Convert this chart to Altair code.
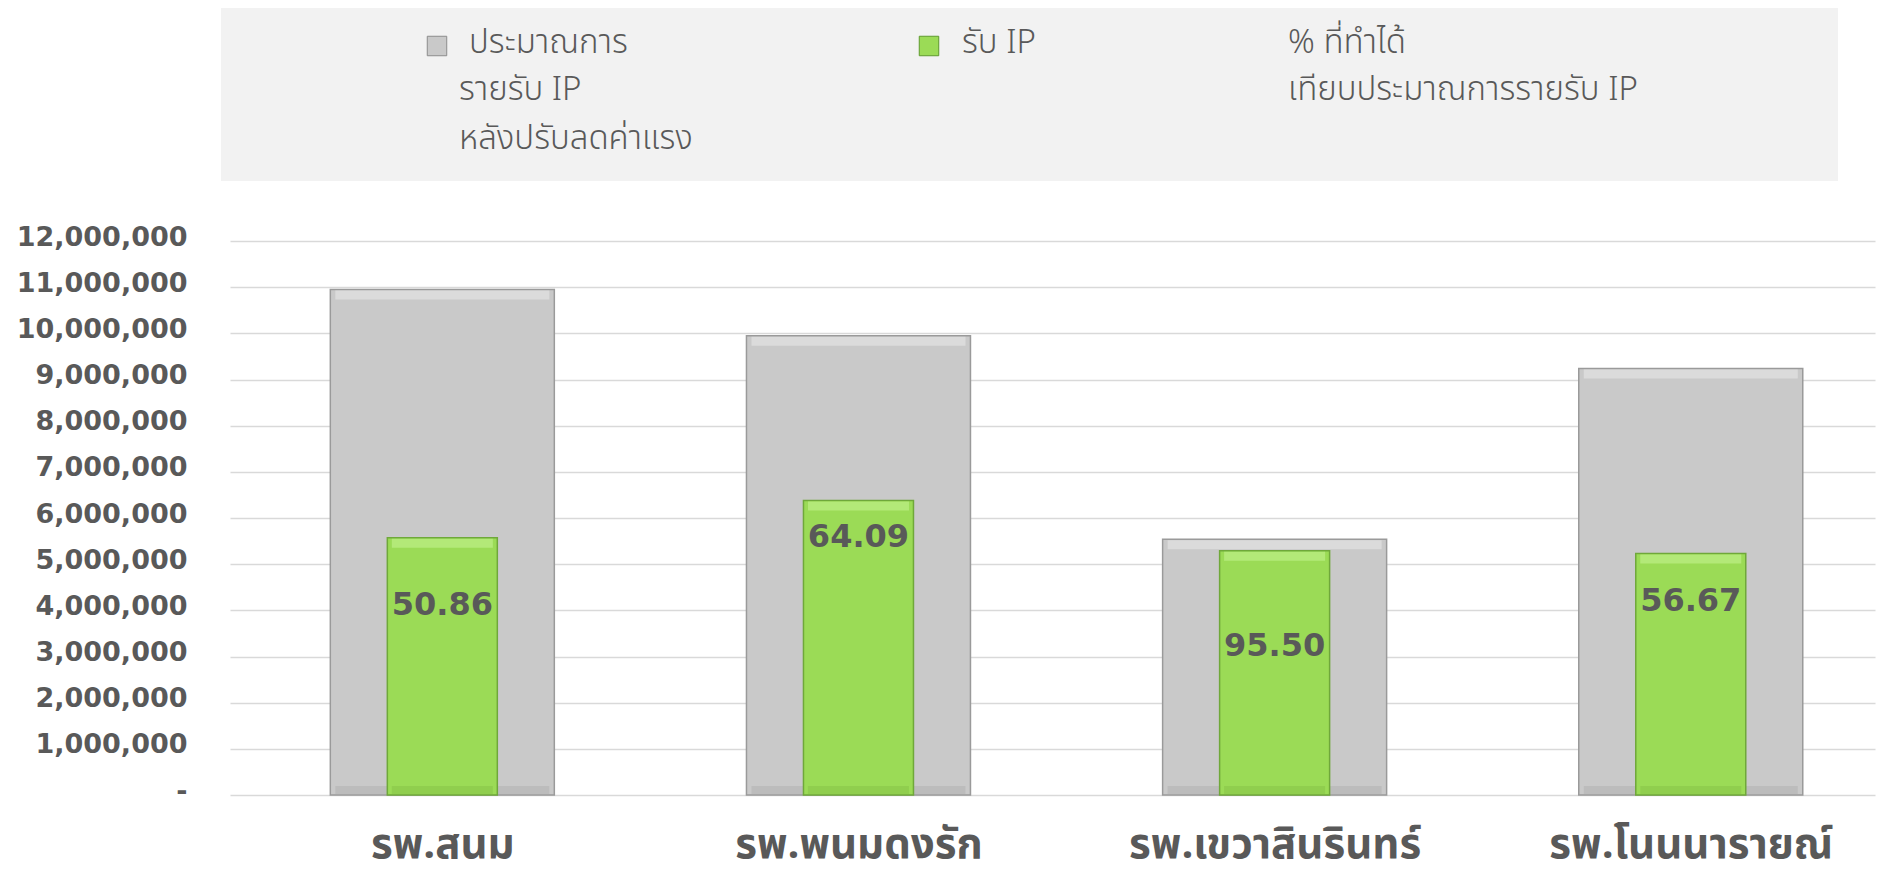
import altair as alt
import pandas as pd

# ---------------- data ----------------
hospitals = ["รพ.สนม", "รพ.พนมดงรัก", "รพ.เขวาสินรินทร์", "รพ.โนนนารายณ์"]
plan_values = [10950000, 9950000, 5540000, 9240000]      # ประมาณการรายรับ IP หลังปรับลดค่าแรง
actual_values = [5570000, 6380000, 5290000, 5230000]     # รับ IP
pct_values = [50.86, 64.09, 95.50, 56.67]                # % ที่ทำได้
label_levels = [4115000, 5590000, 3230000, 4200000]      # where the % labels sit (y units)
y_ticks = [0, 1000000, 2000000, 3000000, 4000000, 5000000, 6000000,
           7000000, 8000000, 9000000, 10000000, 11000000, 12000000]
series_names = ["ประมาณการ รายรับ IP หลังปรับลดค่าแรง", "รับ IP",
                "% ที่ทำได้ เทียบประมาณการรายรับ IP"]
legend_lines = [["ประมาณการ", "รายรับ IP", "หลังปรับลดค่าแรง"],
                ["รับ IP"],
                ["% ที่ทำได้", "เทียบประมาณการรายรับ IP"]]
series_colors = ["#c9c9c9", "#9bdb56", "transparent"]

# ---------------- styling ----------------
TEXT = "#595959"
NUM_FONT = "DejaVu Sans"
THAI_FONT = "Noto Sans Thai, Noto Sans Thai UI, Loma, Garuda, Tahoma, sans-serif"
W, H = 1645, 554
OX, OY = 230, 241  # plot origin on the page

df = pd.DataFrame({
    "hospital": hospitals,
    "idx": list(range(len(hospitals))),
    "plan": plan_values,
    "actual": actual_values,
    "pct": pct_values,
    "label_y": label_levels,
    "zero": [0] * len(hospitals),
})
df["plan_series"] = series_names[0]
df["actual_series"] = series_names[1]

color_scale = alt.Scale(domain=series_names, range=series_colors)
names_js = "[" + ",".join("'" + h + "'" for h in hospitals) + "]"

x_enc = alt.X(
    "idx:Q",
    title=None,
    scale=alt.Scale(domain=[-0.4982, 3.4307], nice=False, zero=False),
    axis=alt.Axis(
        values=list(range(len(hospitals))),
        labelExpr=names_js + "[datum.value]",
        grid=False, ticks=False, domain=False, tickSize=0,
        labelFont=THAI_FONT, labelFontSize=42, labelFontWeight="bold",
        labelColor=TEXT, labelBaseline="alphabetic", labelPadding=62,
        labelFlush=False, labelOverlap=False, labelLimit=0,
    ),
)
y_scale = alt.Scale(domain=[0, 12000000], nice=False)
X = alt.X("idx:Q", title=None)

base = alt.Chart(df)

plan_bars = base.mark_bar(size=224, stroke="#9a9a9a", strokeWidth=1.5).encode(
    x=x_enc,
    y=alt.Y(
        "plan:Q", title=None, scale=y_scale,
        axis=alt.Axis(
            values=y_ticks,
            labelExpr="datum.value == 0 ? '-' : format(datum.value, ',')",
            grid=True, gridColor="#d9d9d9", gridWidth=1.6,
            ticks=False, tickSize=0, domain=False,
            labelFont=NUM_FONT, labelFontSize=27, labelFontWeight="bold",
            labelColor=TEXT, labelPadding=43, labelOffset=-4,
        ),
    ),
    color=alt.Color("plan_series:N", scale=color_scale, legend=None),
)
plan_top = base.mark_tick(orient="horizontal", size=214, thickness=9,
                          color="#e2e2e2", yOffset=5.5).encode(
    x=X, y=alt.Y("plan:Q", title=None))
plan_bottom = base.mark_tick(orient="horizontal", size=214, thickness=8,
                             color="#b7b7b7", yOffset=-5).encode(
    x=X, y=alt.Y("zero:Q", title=None))

actual_bars = base.mark_bar(size=110, stroke="#6fa83a", strokeWidth=1.5).encode(
    x=X,
    y=alt.Y("actual:Q", title=None),
    color=alt.Color("actual_series:N", scale=color_scale, legend=None),
)
actual_top = base.mark_tick(orient="horizontal", size=101, thickness=9,
                            color="#bdf087", yOffset=5.5).encode(
    x=X, y=alt.Y("actual:Q", title=None))
actual_bottom = base.mark_tick(orient="horizontal", size=101, thickness=8,
                               color="#8bc94b", yOffset=-5).encode(
    x=X, y=alt.Y("zero:Q", title=None))

pct_labels = base.mark_text(
    font=NUM_FONT, fontSize=32, fontWeight="bold", color=TEXT,
    align="center", baseline="middle",
).encode(
    x=X,
    y=alt.Y("label_y:Q", title=None),
    text=alt.Text("pct:Q", format=".2f"),
)

# ---------------- legend (drawn as a panel above the plot) ----------------
one = pd.DataFrame({"k": [0]})
legend_layers = [
    alt.Chart(one).mark_rect(color="#f2f2f2").encode(
        x=alt.value(221 - OX), x2=alt.value(1838 - OX),
        y=alt.value(6 - OY), y2=alt.value(181 - OY),
    )
]
marker_pos = [(437, 46), (929, 46), None]
text_x = [[469, 459, 459], [962], [1288, 1288]]
line_y = [43, 90, 139]
for i, name in enumerate(series_names):
    if marker_pos[i] is not None:
        mx, my = marker_pos[i]
        legend_layers.append(
            alt.Chart(pd.DataFrame({"series": [name]})).mark_square(
                size=380, opacity=1, stroke="#8c8c8c" if i == 0 else "#5f9a2e",
                strokeWidth=1,
            ).encode(
                x=alt.value(mx - OX), y=alt.value(my - OY),
                color=alt.Color("series:N", scale=color_scale, legend=None),
            )
        )
    for j, line in enumerate(legend_lines[i]):
        legend_layers.append(
            alt.Chart(one).mark_text(
                font=THAI_FONT, fontSize=33, fontWeight=300, color=TEXT,
                align="left", baseline="middle",
            ).encode(
                x=alt.value(text_x[i][j] - OX), y=alt.value(line_y[j] - OY),
                text=alt.value(line),
            )
        )

chart = alt.layer(
    plan_bars, *legend_layers, plan_top, plan_bottom,
    actual_bars, actual_top, actual_bottom, pct_labels,
).properties(
    width=W, height=H,
    autosize=alt.AutoSizeParams(type="none"),
    padding={"left": OX - 8, "top": OY - 8, "right": 2, "bottom": 84},
    background="white",
).configure_view(stroke=None)

chart.save("out.html", embed_options={"renderer": "svg", "actions": False})
